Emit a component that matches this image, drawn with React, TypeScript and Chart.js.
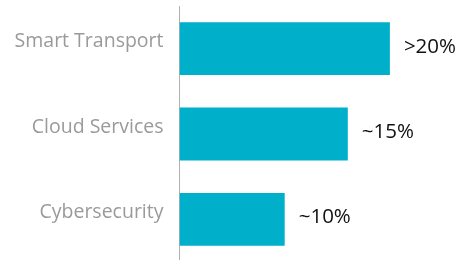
import React, { useEffect, useRef } from "react";
import { Chart, registerables } from "chart.js";

Chart.register(...registerables);

const categories = ["Smart Transport", "Cloud Services", "Cybersecurity"];
const values = [20, 16, 10];
const valueLabels = [">20%", "~15%", "~10%"];

const BAR_COLOR = "#00AFCA";
const FONT = "'Open Sans', 'Noto Sans', sans-serif";

const valueLabelPlugin = {
  id: "valueLabels",
  afterDatasetsDraw(chart: any) {
    const { ctx } = chart;
    const meta = chart.getDatasetMeta(0);
    ctx.save();
    ctx.font = `20.5px ${FONT}`;
    ctx.fillStyle = "#111111";
    ctx.textAlign = "left";
    ctx.textBaseline = "middle";
    meta.data.forEach((bar: any, i: number) => {
      ctx.fillText(valueLabels[i], bar.x + 14, bar.y - 2);
    });
    ctx.restore();
  },
};

export default function App() {
  const ref = useRef<HTMLCanvasElement>(null);
  useEffect(() => {
    document.body.style.margin = "0";
    document.body.style.overflow = "hidden";
    const chart = new Chart(ref.current!, {
      type: "bar",
      data: {
        labels: categories,
        datasets: [
          {
            data: values,
            backgroundColor: BAR_COLOR,
            borderWidth: 0,
            categoryPercentage: 1,
            barPercentage: 0.62,
          },
        ],
      },
      options: {
        indexAxis: "y",
        responsive: false,
        animation: false,
        layout: { padding: { top: 6, bottom: 6, left: 0, right: 8 } },
        plugins: {
          legend: { display: false },
          tooltip: { enabled: false },
        },
        scales: {
          x: { display: false, min: 0, max: 26 },
          y: {
            grid: { display: false, drawTicks: false },
            border: { display: true, color: "#b0b0b0", width: 1 },
            afterFit: (scale: any) => {
              scale.width = 179.5;
              scale.paddingTop = 0;
              scale.paddingBottom = 0;
            },
            ticks: {
              padding: 16,
              labelOffset: -7,
              color: "#9a9a9a",
              font: { family: FONT, size: 19.5 },
            },
          },
        },
      },
      plugins: [valueLabelPlugin],
    });
    return () => chart.destroy();
  }, []);
  return (
    <div style={{ position: "fixed", left: 0, top: 0, width: 461, height: 260, overflow: "hidden", background: "#fff" }}>
      <canvas ref={ref} width={461} height={268} style={{ display: "block" }} />
    </div>
  );
}
